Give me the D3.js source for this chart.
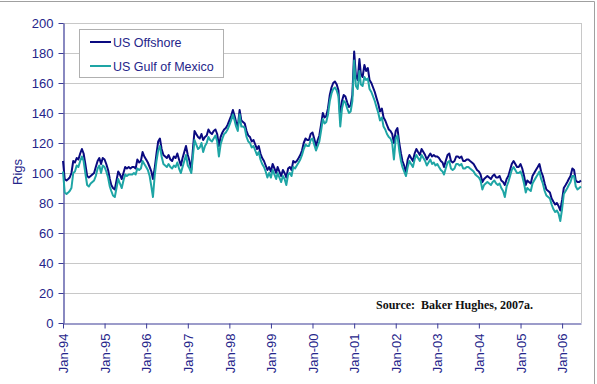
<!DOCTYPE html>
<html>
<head>
<meta charset="utf-8">
<script src="https://cdn.jsdelivr.net/npm/d3@7"></script>
<style>
  body { margin: 0; background: #fff; }
  svg { display: block; font-family: Arial, "Liberation Sans", sans-serif; }
</style>
</head>
<body>
<svg id="chart" width="597" height="384"></svg>
<script>
// rig counts, sampled twice a month (1st and 16th) from Jan 1994
const offshoreRigs = [
  108, 96, 95, 96, 97, 100, 108, 107, 110, 109, 113, 116, 113, 106, 98, 97, 98, 99, 100, 104, 108, 110, 106, 110,
  109, 106, 102, 96, 92, 90, 89, 95, 101, 99, 96, 100, 104, 103, 104, 103, 104, 104, 103, 109, 107, 108, 114, 111,
  109, 107, 104, 101, 96, 103, 113, 121, 123, 116, 112, 111, 110, 112, 109, 108, 111, 110, 113, 109, 105, 110, 114, 118,
  112, 108, 102, 117, 128, 126, 124, 123, 126, 122, 124, 125, 129, 127, 126, 128, 129, 126, 118, 124, 127, 129, 130, 132,
  135, 138, 142, 138, 134, 131, 142, 135, 134, 133, 128, 125, 124, 121, 122, 119, 116, 118, 113, 110, 108, 105, 102, 104,
  101, 106, 103, 100, 104, 101, 98, 102, 100, 97, 103, 104, 102, 108, 107, 108, 110, 112, 115, 120, 123, 122, 122, 126,
  127, 123, 118, 122, 125, 132, 140, 137, 138, 143, 152, 157, 160, 161, 159, 155, 136, 148, 152, 151, 147, 144, 145, 152,
  181, 165, 162, 176, 166, 164, 172, 168, 170, 162, 160, 157, 154, 150, 146, 141, 143, 137, 135, 132, 129, 128, 126, 120,
  128, 130, 120, 113, 108, 105, 100, 109, 112, 110, 108, 113, 116, 114, 112, 116, 114, 112, 109, 111, 113, 111, 112, 111,
  111, 110, 108, 107, 104, 108, 112, 113, 108, 107, 108, 111, 111, 110, 111, 108, 108, 109, 109, 108, 107, 106, 104, 102,
  101, 99, 94, 96, 97, 98, 97, 96, 98, 99, 97, 97, 98, 95, 94, 92, 96, 98, 102, 106, 108, 106, 104, 104,
  106, 103, 98, 92, 95, 94, 93, 98, 100, 102, 104, 106, 101, 98, 93, 89, 88, 87, 83, 81, 79, 80, 78, 75,
  82, 90, 92, 94, 96, 98, 103, 102, 95, 94, 94, 95
];
const gulfRigs = [
  101, 87, 86, 87, 88, 90, 100, 101, 105, 104, 108, 111, 108, 100, 92, 91, 93, 94, 95, 98, 103, 105, 100, 105,
  104, 101, 97, 91, 88, 85, 84, 90, 96, 93, 90, 95, 99, 98, 99, 99, 99, 100, 99, 103, 102, 103, 108, 106,
  104, 102, 98, 91, 84, 98, 108, 115, 118, 111, 106, 105, 104, 106, 104, 103, 105, 104, 107, 103, 100, 104, 108, 112,
  105, 103, 100, 112, 122, 119, 116, 117, 120, 114, 118, 120, 124, 122, 121, 123, 125, 121, 111, 119, 123, 126, 127, 129,
  132, 135, 139, 135, 131, 128, 139, 131, 131, 130, 124, 121, 120, 117, 118, 115, 112, 114, 109, 106, 104, 101, 97, 100,
  97, 102, 99, 96, 100, 97, 94, 98, 96, 92, 99, 100, 98, 104, 103, 105, 107, 109, 112, 116, 119, 118, 118, 122,
  123, 119, 115, 118, 121, 128, 136, 133, 134, 139, 148, 153, 156, 157, 155, 151, 131, 143, 148, 147, 143, 140, 141, 148,
  175, 158, 156, 168, 159, 158, 164, 162, 163, 156, 154, 151, 148, 144, 140, 135, 137, 131, 129, 126, 124, 123, 120, 109,
  123, 125, 115, 108, 104, 101, 98, 104, 108, 106, 104, 109, 112, 110, 108, 112, 110, 108, 105, 107, 109, 106, 107, 105,
  106, 104, 102, 101, 99, 103, 107, 108, 103, 102, 103, 106, 106, 105, 106, 103, 103, 104, 104, 103, 102, 101, 99, 98,
  97, 95, 89, 92, 93, 94, 93, 92, 94, 95, 93, 92, 93, 90, 88, 84, 91, 94, 98, 102, 104, 102, 100, 100,
  101, 98, 93, 87, 90, 89, 88, 93, 95, 97, 99, 101, 96, 93, 88, 85, 84, 83, 79, 76, 74, 75, 73, 68,
  76, 86, 88, 90, 92, 94, 98, 98, 91, 89, 90, 91
];
const seriesNames = ['US Offshore', 'US Gulf of Mexico'];
const tickLabels = ['Jan-94', 'Jan-95', 'Jan-96', 'Jan-97', 'Jan-98', 'Jan-99', 'Jan-00',
                    'Jan-01', 'Jan-02', 'Jan-03', 'Jan-04', 'Jan-05', 'Jan-06'];
const yTicks = [0, 20, 40, 60, 80, 100, 120, 140, 160, 180, 200];
const sourceNote = 'Source:  Baker Hughes, 2007a.';

const colorOffshore = '#0a0a80',
      colorGulf = '#1ea5a5',
      colorText = '#25258a',
      colorAxis = '#3a3a96',
      colorGrid = '#c8c8c8';

const svg = d3.select('#chart'),
      plotLeft = 63, plotRight = 581, plotTop = 23, plotBottom = 323;

const dates = offshoreRigs.map((d, i) => new Date(1994, Math.floor(i / 2), i % 2 ? 16 : 1));
const tickDates = tickLabels.map((d, i) => new Date(1994 + i, 0, 1));

const x = d3.scaleTime()
    .domain([dates[0], dates[dates.length - 1]])
    .range([plotLeft, plotRight]);

const y = d3.scaleLinear()
    .domain([0, 200])
    .range([plotBottom, plotTop]);

// outer frame (only top and right edges show in the picture)
svg.append('path')
    .attr('d', 'M0,1.5H594.5V384')
    .attr('fill', 'none')
    .attr('stroke', '#a0a0a0');

// gridlines + plot border
svg.append('g')
  .selectAll('line')
  .data(yTicks.filter(d => d > 0))
  .join('line')
    .attr('x1', plotLeft).attr('x2', plotRight)
    .attr('y1', d => y(d) + 0.5).attr('y2', d => y(d) + 0.5)
    .attr('stroke', colorGrid);

svg.append('line')
    .attr('x1', plotRight + 0.5).attr('x2', plotRight + 0.5)
    .attr('y1', plotTop).attr('y2', plotBottom)
    .attr('stroke', colorGrid);

// axes
const yAxis = svg.append('g')
    .attr('transform', `translate(${plotLeft + 0.5},0)`)
    .call(d3.axisLeft(y).tickValues(yTicks).tickSize(5).tickSizeOuter(0).tickPadding(5));

const xAxis = svg.append('g')
    .attr('transform', `translate(0,${plotBottom + 0.5})`)
    .call(d3.axisBottom(x).tickValues(tickDates).tickFormat((d, i) => tickLabels[i])
      .tickSize(5).tickSizeOuter(0));

[yAxis, xAxis].forEach(ax => {
  ax.select('.domain').attr('stroke', colorAxis).attr('stroke-width', 1.2);
  ax.selectAll('.tick line').attr('stroke', colorAxis);
  ax.selectAll('text')
    .attr('fill', colorText)
    .style('font-size', '13px')
    .style('font-family', 'Arial, "Liberation Sans", sans-serif');
});

xAxis.selectAll('text')
    .attr('transform', 'rotate(-90)')
    .attr('text-anchor', 'end')
    .attr('x', -10)
    .attr('y', 0)
    .attr('dy', '0.36em');

svg.append('text')
    .attr('transform', 'translate(22,172) rotate(-90)')
    .attr('text-anchor', 'middle')
    .attr('fill', colorText)
    .style('font-size', '13px')
    .text('Rigs');

// series
const line = d3.line()
    .x((d, i) => x(dates[i]))
    .y(d => y(d));

svg.append('path')
    .datum(offshoreRigs)
    .attr('d', line)
    .attr('fill', 'none')
    .attr('stroke', colorOffshore)
    .attr('stroke-width', 2)
    .attr('stroke-linejoin', 'round');

svg.append('path')
    .datum(gulfRigs)
    .attr('d', line)
    .attr('fill', 'none')
    .attr('stroke', colorGulf)
    .attr('stroke-width', 2)
    .attr('stroke-linejoin', 'round');

// legend
const legend = svg.append('g');
legend.append('rect')
    .attr('x', 79.5).attr('y', 29.5)
    .attr('width', 144).attr('height', 48)
    .attr('fill', '#fff')
    .attr('stroke', '#b0b0b0');

const items = legend.selectAll('g.item')
  .data(seriesNames)
  .join('g')
    .attr('class', 'item')
    .attr('transform', (d, i) => `translate(0,${42 + i * 24})`);

items.append('line')
    .attr('x1', 90).attr('x2', 111)
    .attr('stroke', (d, i) => i ? colorGulf : colorOffshore)
    .attr('stroke-width', 2);

items.append('text')
    .attr('x', 113)
    .attr('dy', '0.36em')
    .attr('fill', colorText)
    .style('font-size', '12.5px')
    .text(d => d);

// source note
svg.append('text')
    .attr('x', 376)
    .attr('y', 309)
    .attr('fill', '#111')
    .style('font-family', '"Liberation Serif", "Times New Roman", serif')
    .style('font-weight', 'bold')
    .style('font-size', '12px')
    .style('white-space', 'pre')
    .text(sourceNote);
</script>
</body>
</html>
